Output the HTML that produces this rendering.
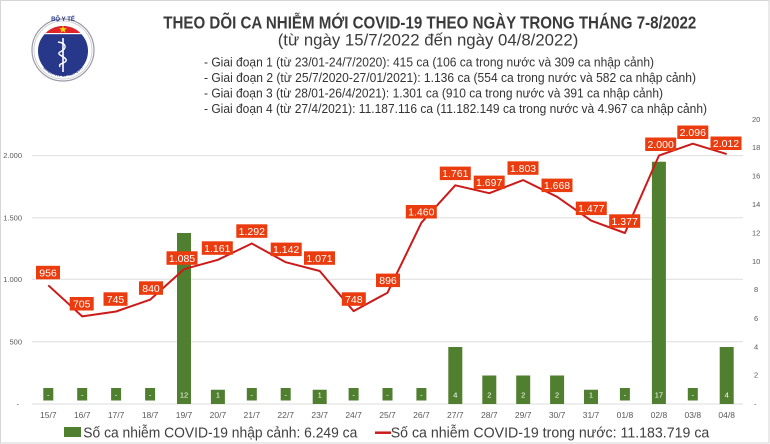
<!DOCTYPE html>
<html>
<head>
<meta charset="utf-8">
<style>
html,body{margin:0;padding:0;background:#fff;}
svg{display:block;}
text{font-family:"Liberation Sans",Arial,sans-serif;}
</style>
</head>
<body>
<svg width="770" height="444" viewBox="0 0 770 444" xmlns="http://www.w3.org/2000/svg">
<rect x="0" y="0" width="770" height="444" fill="#fff"/>
<rect x="0.5" y="0.5" width="768.5" height="442.5" fill="none" stroke="#d6d6d6" stroke-width="1"/>

<!-- Logo -->
<g>
  <circle cx="63" cy="50" r="31" fill="#fff" stroke="#9a9aa8" stroke-width="1.2"/>
  <circle cx="63" cy="50" r="29" fill="none" stroke="#c4c4cc" stroke-width="0.8"/>
  <clipPath id="lc"><circle cx="63" cy="51" r="25"/></clipPath>
  <circle cx="63" cy="51" r="25" fill="#27378a"/>
  <rect x="36" y="24" width="54" height="9" fill="#e0242a" clip-path="url(#lc)"/>
  <rect x="36" y="33" width="54" height="1.2" fill="#fff" clip-path="url(#lc)"/>
  <polygon points="63,25.5 64,28.3 67,28.3 64.6,30 65.5,32.8 63,31.1 60.5,32.8 61.4,30 59,28.3 62,28.3" fill="#f5d90a"/>
  <line x1="63" y1="38" x2="63" y2="72" stroke="#fff" stroke-width="1.6"/>
  <path d="M58,42 C66,43 68,48 60,52 C55,55 68,57 66,61 C64,64 58,63 60,67" fill="none" stroke="#fff" stroke-width="1.4"/>
  <text x="63" y="21" font-size="6" font-weight="bold" fill="#27378a" text-anchor="middle">BỘ Y TẾ</text>
  <path id="arcb" d="M38,60 A27,27 0 0 0 88,60" fill="none"/>
  <text font-size="4.2" fill="#27378a" font-weight="bold"><textPath href="#arcb" startOffset="50%" text-anchor="middle">MINISTRY OF HEALTH</textPath></text>
</g>

<!-- Title -->
<text x="163.3" y="28.5" font-size="17.5" font-weight="bold" fill="#3b3b3b" textLength="533" lengthAdjust="spacingAndGlyphs">THEO DÕI CA NHIỄM MỚI COVID-19 THEO NGÀY TRONG THÁNG 7-8/2022</text>
<text x="277.7" y="45.5" font-size="17" fill="#3b3b3b" textLength="300.6" lengthAdjust="spacingAndGlyphs">(từ ngày 15/7/2022 đến ngày 04/8/2022)</text>
<g font-size="12.5" fill="#333">
<text x="204" y="66.5" textLength="450" lengthAdjust="spacingAndGlyphs">- Giai đoạn 1 (từ 23/01-24/7/2020): 415 ca (106 ca trong nước và 309 ca nhập cảnh)</text>
<text x="204" y="82" textLength="492" lengthAdjust="spacingAndGlyphs">- Giai đoạn 2 (từ 25/7/2020-27/01/2021): 1.136 ca (554 ca trong nước và 582 ca nhập cảnh)</text>
<text x="204" y="97.5" textLength="459" lengthAdjust="spacingAndGlyphs">- Giai đoạn 3 (từ 28/01-26/4/2021): 1.301 ca (910 ca trong nước và 391 ca nhập cảnh)</text>
<text x="204" y="113" textLength="503" lengthAdjust="spacingAndGlyphs">- Giai đoạn 4 (từ 27/4/2021): 11.187.116 ca (11.182.149 ca trong nước và 4.967 ca nhập cảnh)</text>
</g>

<!-- Gridlines -->
<g stroke="#dedede" stroke-width="1">
<line x1="32" y1="155.6" x2="743" y2="155.6"/>
<line x1="32" y1="217.7" x2="743" y2="217.7"/>
<line x1="32" y1="279.3" x2="743" y2="279.3"/>
<line x1="32" y1="341.7" x2="743" y2="341.7"/>
<line x1="32" y1="404" x2="743" y2="404"/>
</g>

<!-- Left axis -->
<g font-size="7.5" fill="#595959" text-anchor="end">
<text x="22" y="158.2">2.000</text>
<text x="22" y="220.3">1.500</text>
<text x="22" y="281.9">1.000</text>
<text x="22" y="344.3">500</text>
<text x="19" y="406.6">-</text>
</g>
<!-- Right axis -->
<g font-size="7.5" fill="#595959" text-anchor="start">
<text x="752" y="121.8">20</text>
<text x="752" y="150">18</text>
<text x="752" y="178.5">16</text>
<text x="752" y="207">14</text>
<text x="752" y="235.5">12</text>
<text x="752" y="264">10</text>
<text x="754" y="292">8</text>
<text x="754" y="321">6</text>
<text x="754" y="349.3">4</text>
<text x="754" y="377.6">2</text>
<text x="754" y="406.6">-</text>
</g>

<!-- Bars -->
<g fill="#4f7f2f">
<rect x="177" y="233" width="14" height="171"/>
<rect x="210.9" y="389.75" width="14" height="14.25"/>
<rect x="312.7" y="389.75" width="14" height="14.25"/>
<rect x="448.3" y="347" width="14" height="57"/>
<rect x="482.3" y="375.5" width="14" height="28.5"/>
<rect x="516.2" y="375.5" width="14" height="28.5"/>
<rect x="550.1" y="375.5" width="14" height="28.5"/>
<rect x="584" y="389.75" width="14" height="14.25"/>
<rect x="651.9" y="161.75" width="14" height="242.25"/>
<rect x="719.7" y="347" width="14" height="57"/>
<!-- zero label boxes -->
<rect x="43.3" y="388" width="10" height="12.5"/>
<rect x="77.2" y="388" width="10" height="12.5"/>
<rect x="111.1" y="388" width="10" height="12.5"/>
<rect x="145.1" y="388" width="10" height="12.5"/>
<rect x="246.8" y="388" width="10" height="12.5"/>
<rect x="280.7" y="388" width="10" height="12.5"/>
<rect x="348.6" y="388" width="10" height="12.5"/>
<rect x="382.5" y="388" width="10" height="12.5"/>
<rect x="416.4" y="388" width="10" height="12.5"/>
<rect x="619.9" y="388" width="10" height="12.5"/>
<rect x="687.8" y="388" width="10" height="12.5"/>
</g>
<g font-size="7.5" fill="#fff" text-anchor="middle">
<text x="48.3" y="397.5">-</text>
<text x="82.2" y="397.5">-</text>
<text x="116.1" y="397.5">-</text>
<text x="150.1" y="397.5">-</text>
<text x="184" y="397.5">12</text>
<text x="217.9" y="397.5">1</text>
<text x="251.8" y="397.5">-</text>
<text x="285.7" y="397.5">-</text>
<text x="319.7" y="397.5">1</text>
<text x="353.6" y="397.5">-</text>
<text x="387.5" y="397.5">-</text>
<text x="421.4" y="397.5">-</text>
<text x="455.3" y="397.5">4</text>
<text x="489.3" y="397.5">2</text>
<text x="523.2" y="397.5">2</text>
<text x="557.1" y="397.5">2</text>
<text x="591" y="397.5">1</text>
<text x="624.9" y="397.5">-</text>
<text x="658.9" y="397.5">17</text>
<text x="692.8" y="397.5">-</text>
<text x="726.7" y="397.5">4</text>
</g>

<!-- X labels -->
<g font-size="8.5" fill="#595959" text-anchor="middle">
<text x="48.3" y="418">15/7</text>
<text x="82.2" y="418">16/7</text>
<text x="116.1" y="418">17/7</text>
<text x="150.1" y="418">18/7</text>
<text x="184" y="418">19/7</text>
<text x="217.9" y="418">20/7</text>
<text x="251.8" y="418">21/7</text>
<text x="285.7" y="418">22/7</text>
<text x="319.7" y="418">23/7</text>
<text x="353.6" y="418">24/7</text>
<text x="387.5" y="418">25/7</text>
<text x="421.4" y="418">26/7</text>
<text x="455.3" y="418">27/7</text>
<text x="489.3" y="418">28/7</text>
<text x="523.2" y="418">29/7</text>
<text x="557.1" y="418">30/7</text>
<text x="591" y="418">31/7</text>
<text x="624.9" y="418">01/8</text>
<text x="658.9" y="418">02/8</text>
<text x="692.8" y="418">03/8</text>
<text x="726.7" y="418">04/8</text>
</g>

<!-- Line -->
<polyline fill="none" stroke="#cc1a1a" stroke-width="2" stroke-linejoin="round"
points="48.3,285.3 82.2,316.4 116.1,311.5 150.1,299.7 184,269.2 217.9,259.8 251.8,243.5 285.7,262.2 319.7,271 353.6,311.1 387.5,292.7 421.4,222.7 455.3,185.3 489.3,193.2 523.2,180.1 557.1,196.8 591,220.6 624.9,233 658.9,155.6 692.8,143.7 726.7,154.1"/>

<!-- Data labels -->
<g fill="#ea3c0e">
<rect x="36" y="265.8" width="24" height="13.5"/>
<rect x="69.7" y="297" width="24" height="13.5"/>
<rect x="103.5" y="292.3" width="24" height="13.5"/>
<rect x="139" y="281.3" width="24" height="13.5"/>
<rect x="166.5" y="251.3" width="31" height="13.5"/>
<rect x="201.8" y="241.3" width="31" height="13.5"/>
<rect x="236.3" y="224.3" width="31" height="13.5"/>
<rect x="270.7" y="242.6" width="31" height="13.5"/>
<rect x="304" y="251.3" width="31" height="13.5"/>
<rect x="341.8" y="292.3" width="24" height="13.5"/>
<rect x="376" y="273.6" width="24" height="13.5"/>
<rect x="405.8" y="205" width="31" height="13.5"/>
<rect x="439.8" y="166.6" width="31" height="13.5"/>
<rect x="473.7" y="175.6" width="31" height="13.5"/>
<rect x="507.5" y="161.3" width="31" height="13.5"/>
<rect x="541.5" y="178.6" width="31" height="13.5"/>
<rect x="575.8" y="201.6" width="31" height="13.5"/>
<rect x="609.2" y="214.3" width="31" height="13.5"/>
<rect x="645.2" y="137.5" width="31" height="13.5"/>
<rect x="677.3" y="125.5" width="31" height="13.5"/>
<rect x="710.5" y="136.5" width="31" height="13.5"/>
</g>
<g font-size="10.5" fill="#fff" text-anchor="middle">
<text x="48" y="276.3">956</text>
<text x="81.7" y="307.5">705</text>
<text x="115.5" y="302.8">745</text>
<text x="151" y="291.8">840</text>
<text x="182" y="261.8">1.085</text>
<text x="217.3" y="251.8">1.161</text>
<text x="251.8" y="234.8">1.292</text>
<text x="286.2" y="253.1">1.142</text>
<text x="319.5" y="261.8">1.071</text>
<text x="353.8" y="302.8">748</text>
<text x="388" y="284.1">896</text>
<text x="421.3" y="215.5">1.460</text>
<text x="455.3" y="177.1">1.761</text>
<text x="489.2" y="186.1">1.697</text>
<text x="523" y="171.8">1.803</text>
<text x="557" y="189.1">1.668</text>
<text x="591.3" y="212.1">1.477</text>
<text x="624.7" y="224.8">1.377</text>
<text x="660.7" y="148">2.000</text>
<text x="692.8" y="136">2.096</text>
<text x="726" y="147">2.012</text>
</g>

<!-- Legend -->
<rect x="64" y="427" width="17" height="10" fill="#4f7f2f"/>
<text x="83.3" y="437.5" font-size="14.5" fill="#404040" textLength="274" lengthAdjust="spacingAndGlyphs">Số ca nhiễm COVID-19 nhập cảnh: 6.249 ca</text>
<line x1="375" y1="432.7" x2="391" y2="432.7" stroke="#cc1a1a" stroke-width="2.5"/>
<text x="390.7" y="437.5" font-size="14.5" fill="#404040" textLength="318.6" lengthAdjust="spacingAndGlyphs">Số ca nhiễm COVID-19 trong nước: 11.183.719 ca</text>
</svg>
</body>
</html>
